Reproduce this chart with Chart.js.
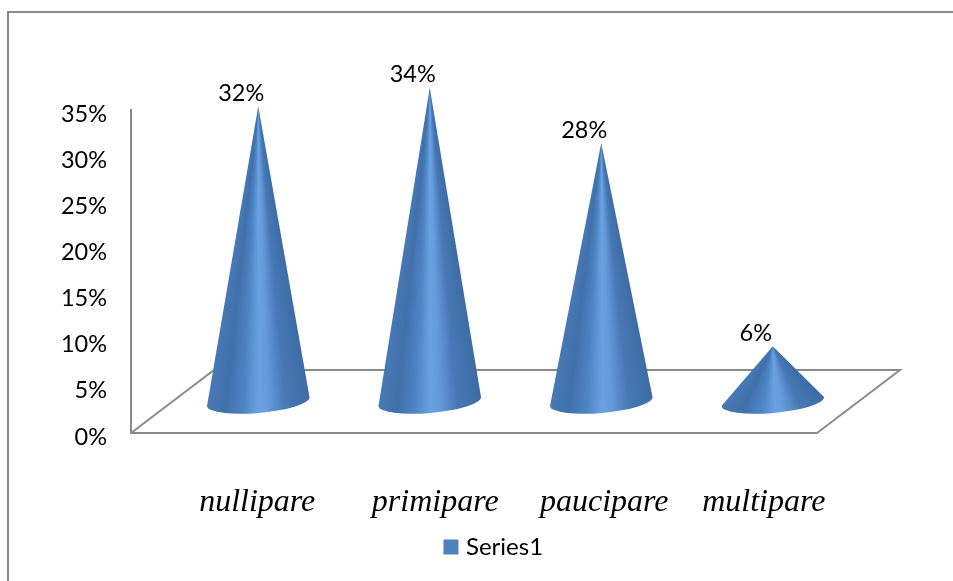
<!DOCTYPE html>
<html>
<head>
<meta charset="utf-8">
<style>
  html, body { margin: 0; padding: 0; background: #fff; }
  canvas { display: block; }
</style>
<script src="https://cdn.jsdelivr.net/npm/chart.js@4"></script>
</head>
<body>
<canvas id="chart" width="953" height="581"></canvas>
<script>
// Chart content
const categories = ['nullipare', 'primipare', 'paucipare', 'multipare'];
const seriesName = 'Series1';
const seriesValues = [32, 34, 28, 6];
const axisMax = 35;
const axisStep = 5;

// Horizontal correction of each category label, in pixels
const labelNudges = [-1, 5.5, 3, -9];

const UI_FONT = 'Lato, "Open Sans", sans-serif';
const LINE = '#8a8a8a';

// Floor depth of the pseudo-3D plot; cones stand halfway along it
const DEPTH_X = 83;
const DEPTH_Y = 63;

// Shading across a cone, left silhouette (0) to right silhouette (1)
const SHADE = [
  [0.00, '#4779b5'], [0.18, '#4070aa'], [0.35, '#4d84c4'], [0.50, '#69a1e2'],
  [0.58, '#659cdd'], [0.76, '#4678b4'], [1.00, '#3d6ca5']
];

// Bar controller that paints each bar as a cone on the floor of the plot
class ConeController extends Chart.BarController {
  draw() {
    const ctx = this.chart.ctx;
    const meta = this.getMeta();
    const tilt = -5 * Math.PI / 180;
    meta.data.forEach((bar, i) => {
      const { x, y, base, width } = bar.getProps(['x', 'y', 'base', 'width'], true);
      const tipX = x + DEPTH_X / 2;
      const tipY = y - DEPTH_Y / 2;
      const cx = tipX;
      const cy = base - DEPTH_Y / 2;
      const rx = width / 2;
      const ry = 11.5;
      const rightX = cx + rx * Math.cos(tilt), rightY = cy + rx * Math.sin(tilt);
      const leftX = cx - rx * Math.cos(tilt), leftY = cy - rx * Math.sin(tilt);

      // Angular gradient around the apex so the highlight narrows towards the tip
      const a0 = Math.atan2(rightY - tipY, rightX - tipX);
      const a1 = Math.atan2(leftY - tipY, leftX - tipX);
      const pad = 0.05;
      const grad = ctx.createConicGradient(a0 - pad, tipX, tipY);
      SHADE.slice().reverse().forEach(([t, color]) => {
        grad.addColorStop((pad + (1 - t) * (a1 - a0)) / (2 * Math.PI), color);
      });

      ctx.save();
      ctx.beginPath();
      ctx.moveTo(tipX, tipY);
      ctx.lineTo(rightX, rightY);
      ctx.ellipse(cx, cy, rx, ry, tilt, 0, Math.PI, false);
      ctx.closePath();
      ctx.fillStyle = grad;
      ctx.fill();

      // Value label up and to the left of the apex
      ctx.fillStyle = '#000';
      ctx.font = '23.5px ' + UI_FONT;
      ctx.textAlign = 'center';
      ctx.textBaseline = 'middle';
      ctx.fillText(seriesValues[i] + '%', tipX - 17, tipY - 13);
      ctx.restore();
    });
  }
}
ConeController.id = 'cone';
ConeController.defaults = Chart.BarController.defaults;
ConeController.overrides = Chart.BarController.overrides;
Chart.register(ConeController);

// Outer frame and the floor parallelogram, painted behind the cones
const backdrop = {
  id: 'backdrop',
  afterLayout(chart) {
    // Legend sits right of the canvas centre
    chart.legend.left += 87;
    chart.legend.right += 87;
  },
  beforeDatasetsDraw(chart) {
    const { ctx, chartArea: a } = chart;
    ctx.save();
    ctx.strokeStyle = LINE;
    ctx.lineWidth = 2;
    ctx.beginPath();
    ctx.moveTo(8, chart.height);
    ctx.lineTo(8, 12);
    ctx.lineTo(chart.width, 12);
    ctx.stroke();
    ctx.beginPath();
    ctx.moveTo(a.left, a.bottom);
    ctx.lineTo(a.left + DEPTH_X, a.bottom - DEPTH_Y);
    ctx.lineTo(a.right + DEPTH_X, a.bottom - DEPTH_Y);
    ctx.lineTo(a.right, a.bottom);
    ctx.stroke();
    ctx.restore();
  }
};

new Chart(document.getElementById('chart'), {
  type: 'cone',
  plugins: [backdrop],
  data: {
    labels: categories,
    datasets: [{
      label: seriesName,
      data: seriesValues,
      backgroundColor: '#4f81bd',
      borderColor: '#4f81bd',
      borderWidth: 9,
      categoryPercentage: 1,
      barPercentage: 0.6,
      clip: false
    }]
  },
  options: {
    responsive: false,
    animation: false,
    events: [],
    layout: { padding: { left: 0, right: 136, top: 110, bottom: 12 } },
    plugins: {
      title: { display: false },
      tooltip: { enabled: false },
      legend: {
        position: 'bottom',
        labels: {
          boxWidth: 6,
          boxHeight: 6,
          color: '#000',
          font: { family: UI_FONT, size: 24 }
        }
      }
    },
    scales: {
      x: {
        grid: { display: false },
        border: { display: true, color: LINE, width: 2 },
        afterFit(scale) { scale.height = 92; },
        afterUpdate(scale) {
          // Each category label carries its own small offset along the axis
          const compute = scale._computeLabelItems;
          scale._computeLabelItems = function (area) {
            const items = compute.call(this, area);
            items.forEach((item, i) => {
              item.options = Object.assign({}, item.options, {
                translation: [item.options.translation[0] + labelNudges[i], item.options.translation[1]]
              });
            });
            return items;
          };
        },
        ticks: {
          color: '#000',
          padding: 42,
          maxRotation: 0,
          autoSkip: false,
          labelOffset: DEPTH_X / 2,
          font: { family: '"Liberation Serif", serif', size: 32, style: 'italic' }
        }
      },
      y: {
        min: 0,
        max: axisMax,
        grid: { display: false, drawTicks: false },
        border: { display: true, color: LINE, width: 2 },
        afterFit(scale) { scale.width = 131; },
        ticks: {
          stepSize: axisStep,
          color: '#000',
          padding: 24,
          labelOffset: 4,
          font: { family: UI_FONT, size: 23.5 },
          callback: v => v + '%'
        }
      }
    }
  }
});
</script>
</body>
</html>
